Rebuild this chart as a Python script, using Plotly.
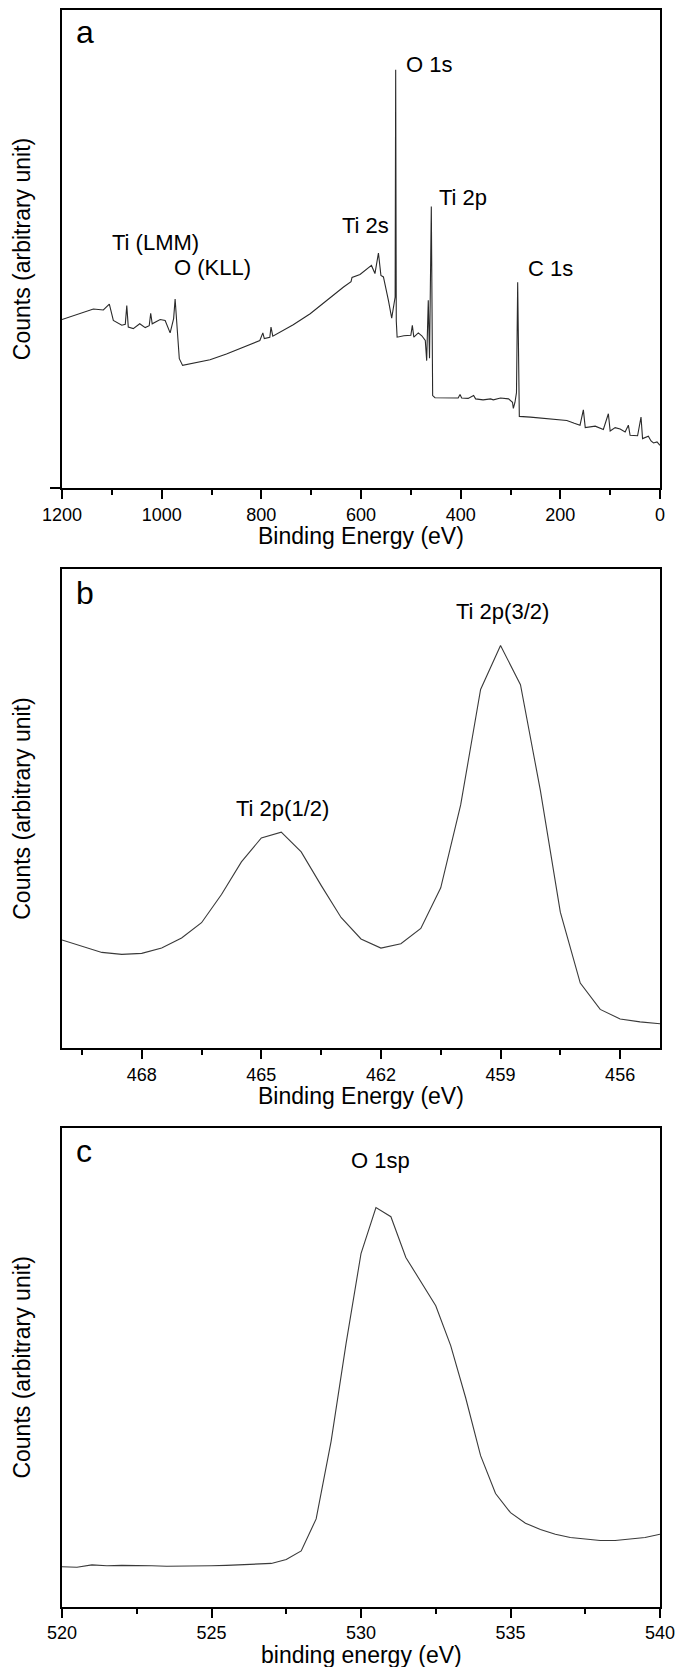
import plotly.graph_objects as go

# ---------------- Panel a: survey spectrum ----------------
survey_energy = [1200, 1164, 1150, 1137, 1117, 1105, 1097, 1080, 1073, 1070, 1067, 1057, 1044, 1033,
                 1025, 1022, 1019, 1003, 993, 983, 976, 973, 968.6, 964.6, 958, 937, 903, 870, 836,
                 803, 797, 794, 783, 780.6, 777, 736, 702, 669, 635, 620, 618, 602, 579, 572, 565,
                 560, 555, 545, 538.4, 531.5, 530.4, 529.2, 527.5, 514, 500, 497, 494, 485, 478,
                 471, 468.2, 465, 462.5, 458.9, 457.5, 456.2, 451.5, 430, 405, 401.3, 398, 385,
                 374, 370, 355, 340, 334.5, 320, 304, 296, 294.3, 291, 288, 285.6, 283.5, 282.3,
                 260, 234, 210, 187, 172, 160.5, 153.8, 150, 130, 113.7, 103.6, 100, 90, 80, 70,
                 63.5, 60, 45, 38.1, 35, 23.4, 18, 13, 6, 0]
survey_counts = [35.3, 36.6, 37.0, 37.5, 37.3, 38.5, 35.1, 34.1, 34.3, 38.2, 33.7, 33.4, 34.4, 33.6,
                 34.0, 36.6, 34.4, 35.3, 35.1, 32.5, 35.5, 39.6, 33.0, 27.1, 25.7, 26.1, 26.9, 28.1,
                 29.5, 30.9, 32.5, 31.3, 31.6, 33.7, 31.8, 34.2, 36.5, 39.3, 42.1, 43.2, 44.1, 44.7,
                 46.6, 44.9, 49.2, 44.5, 44.2, 39.3, 35.6, 40.0, 87.5, 35.0, 31.6, 31.9, 32.0, 34.1,
                 31.6, 32.5, 31.9, 30.9, 26.7, 39.3, 27.2, 58.9, 30.0, 19.4, 18.95, 18.9, 18.9, 19.6,
                 18.9, 18.8, 19.4, 18.7, 18.5, 18.7, 18.5, 18.9, 18.7, 18.0, 16.7, 18.0, 20.0, 43.1,
                 20.0, 15.05, 14.9, 14.7, 14.4, 14.2, 13.6, 13.2, 16.4, 12.7, 13.0, 12.3, 15.6, 12.0,
                 12.7, 12.4, 11.8, 13.2, 11.1, 11.0, 14.9, 10.4, 10.9, 9.9, 9.5, 9.7, 9.0]
survey_labels = ["Ti (LMM)", "O (KLL)", "Ti 2s", "O 1s", "Ti 2p", "C 1s"]
survey_label_x = [1013, 899, 590, 463.5, 395, 220.7]
survey_label_y = [51.4, 46.2, 54.9, 88.7, 60.9, 45.9]

# ---------------- Panel b: Ti 2p ----------------
ti_energy = [470.0, 469.5, 469.0, 468.5, 468.0, 467.5, 467.0, 466.5, 466.0, 465.5, 465.0, 464.5,
             464.0, 463.5, 463.0, 462.5, 462.0, 461.5, 461.0, 460.5, 460.0, 459.5, 459.0, 458.5,
             458.0, 457.5, 457.0, 456.5, 456.0, 455.5, 455.0]
ti_counts = [22.6, 21.3, 20.0, 19.6, 19.8, 20.9, 23.0, 26.2, 32.1, 38.9, 43.9, 45.1,
             41.0, 34.0, 27.3, 22.8, 20.9, 21.8, 25.0, 33.5, 50.8, 74.9, 84.1, 75.9,
             53.8, 28.4, 13.6, 8.1, 6.1, 5.5, 5.1]
ti_labels = ["Ti 2p(3/2)", "Ti 2p(1/2)"]
ti_label_x = [458.96, 464.47]
ti_label_y = [91.2, 50.1]

# ---------------- Panel c: O 1s ----------------
o_energy = [520.0, 520.5, 521.0, 521.5, 522.0, 522.5, 523.0, 523.5, 524.0, 524.5, 525.0, 525.5,
            526.0, 526.5, 527.0, 527.5, 528.0, 528.5, 529.0, 529.5, 530.0, 530.5, 531.0, 531.5,
            532.0, 532.5, 533.0, 533.5, 534.0, 534.5, 535.0, 535.5, 536.0, 536.5, 537.0, 537.5,
            538.0, 538.5, 539.0, 539.5, 540.0]
o_counts = [8.4, 8.3, 8.8, 8.6, 8.7, 8.7, 8.6, 8.5, 8.5, 8.5, 8.6, 8.7,
            8.8, 8.9, 9.1, 9.9, 11.7, 18.4, 34.6, 55.0, 73.8, 83.4, 81.5, 73.0,
            67.9, 62.9, 54.6, 43.7, 31.6, 23.7, 19.7, 17.5, 16.2, 15.2, 14.5, 14.2,
            13.9, 13.9, 14.2, 14.5, 15.2]
o_labels = ["O 1sp"]
o_label_x = [530.66]
o_label_y = [93.2]

panel_letters = ["a", "b", "c"]
x_titles = ["Binding Energy (eV)", "Binding Energy (eV)", "binding energy (eV)"]
y_title = "Counts (arbitrary unit)"

FONT = "Liberation Sans, Arial, Helvetica, sans-serif"

fig = go.Figure()
fig.add_trace(go.Scatter(x=survey_energy, y=survey_counts, mode="lines",
                         line=dict(color="#2a2a2a", width=1.1), xaxis="x", yaxis="y", showlegend=False))
fig.add_trace(go.Scatter(x=ti_energy, y=ti_counts, mode="lines",
                         line=dict(color="#3a3a3a", width=1.1), xaxis="x2", yaxis="y2", showlegend=False))
fig.add_trace(go.Scatter(x=o_energy, y=o_counts, mode="lines",
                         line=dict(color="#3a3a3a", width=1.1), xaxis="x3", yaxis="y3", showlegend=False))

# The page body has an 8px margin, so the figure is drawn offset by 8px; work in page pixels.
OFF = 8
FIG_W, FIG_H = 690 - OFF, 1675 - 2 * OFF
PLOT_TOP, PLOT_BOT, PLOT_L, PLOT_R = 9.5 - OFF, 1607 - OFF, 62 - OFF, 660 - OFF
H_PLOT = float(PLOT_BOT - PLOT_TOP)
W_PLOT = float(PLOT_R - PLOT_L)

def py(page_pix):
    return (PLOT_BOT - (page_pix - OFF)) / H_PLOT

def px(page_pix):
    return ((page_pix - OFF) - PLOT_L) / W_PLOT

panels = [(9.5, 488), (569, 1048), (1128, 1607)]  # page pixel top/bottom of each box

common_x = dict(showline=True, linecolor="black", linewidth=1.6, mirror=True,
                ticks="outside", ticklen=9, tickwidth=1.6, tickcolor="black",
                showgrid=False, zeroline=False,
                tickfont=dict(size=18, color="black", family=FONT), automargin=False)
common_y = dict(showline=True, linecolor="black", linewidth=1.6, mirror=True,
                showgrid=False, zeroline=False, showticklabels=False,
                automargin=False, range=[0, 100])
minor_common = dict(ticks="outside", ticklen=5, tickwidth=1.6, tickcolor="black")

fig.update_layout(
    width=FIG_W, height=FIG_H,
    margin=dict(l=PLOT_L, r=FIG_W - PLOT_R, t=PLOT_TOP, b=FIG_H - PLOT_BOT, pad=0),
    paper_bgcolor="white", plot_bgcolor="white",
    font=dict(family=FONT, color="black"),
    xaxis=dict(common_x, domain=[0, 1], anchor="y", range=[1200, 0], dtick=200, tick0=0,
               minor=dict(minor_common, dtick=100)),
    yaxis=dict(common_y, domain=[py(panels[0][1]), min(1.0, py(panels[0][0]))], anchor="x",
               ticks="outside", ticklen=10, tickwidth=1.6, tickcolor="black", tickvals=[0]),
    xaxis2=dict(common_x, domain=[0, 1], anchor="y2", range=[470, 455], dtick=3, tick0=456,
                minor=dict(minor_common, dtick=1.5, tick0=456)),
    yaxis2=dict(common_y, domain=[py(panels[1][1]), py(panels[1][0])], anchor="x2", ticks=""),
    xaxis3=dict(common_x, domain=[0, 1], anchor="y3", range=[520, 540], dtick=5, tick0=520,
                minor=dict(minor_common, dtick=2.5, tick0=520)),
    yaxis3=dict(common_y, domain=[max(0.0, py(panels[2][1])), py(panels[2][0])], anchor="x3", ticks=""),
)

anns = []
for t, x, y in zip(survey_labels, survey_label_x, survey_label_y):
    anns.append(dict(text=t, x=x, y=y, xref="x", yref="y", showarrow=False,
                     font=dict(size=22, color="black", family=FONT)))
for t, x, y in zip(ti_labels, ti_label_x, ti_label_y):
    anns.append(dict(text=t, x=x, y=y, xref="x2", yref="y2", showarrow=False,
                     font=dict(size=22, color="black", family=FONT)))
for t, x, y in zip(o_labels, o_label_x, o_label_y):
    anns.append(dict(text=t, x=x, y=y, xref="x3", yref="y3", showarrow=False,
                     font=dict(size=22, color="black", family=FONT)))
letter_y = [0.955, 0.950, 0.952]
for i, letter in enumerate(panel_letters):
    sfx = "" if i == 0 else str(i + 1)
    anns.append(dict(text=letter, x=0.02, y=letter_y[i], xref="x%s domain" % sfx, yref="y%s domain" % sfx,
                     xanchor="left", yanchor="middle", showarrow=False,
                     font=dict(size=32, color="black", family=FONT)))
for i, (top, bot) in enumerate(panels):
    anns.append(dict(text=x_titles[i], x=0.5, y=py(bot + 48), xref="paper", yref="paper",
                     xanchor="center", yanchor="middle", showarrow=False,
                     font=dict(size=23, color="black", family=FONT)))
    anns.append(dict(text=y_title, x=px(22), y=py((top + bot) / 2), xref="paper", yref="paper",
                     xanchor="center", yanchor="middle", textangle=-90, showarrow=False,
                     font=dict(size=23, color="black", family=FONT)))
fig.update_layout(annotations=anns)

fig.write_html("out.html")
